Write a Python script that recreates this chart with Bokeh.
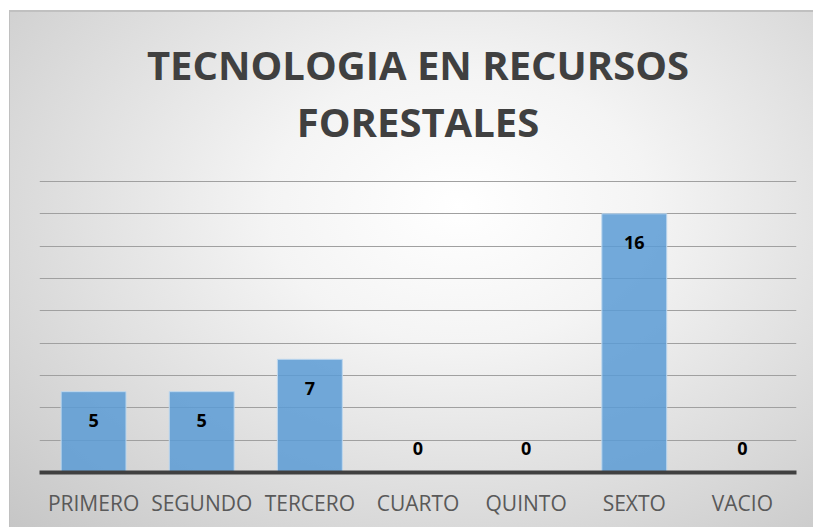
from bokeh.plotting import figure
from bokeh.models import ColumnDataSource, FixedTicker, Title
from bokeh.core.properties import value
from bokeh.embed import file_html
from bokeh.resources import INLINE

categories = ["PRIMERO", "SEGUNDO", "TERCERO", "CUARTO", "QUINTO", "SEXTO", "VACIO"]
counts = [5, 5, 7, 0, 0, 16, 0]
grid_ticks = [2, 4, 6, 8, 10, 12, 14, 16, 18]
y_max = 18.06
title_lines = ["TECNOLOGIA EN RECURSOS", "FORESTALES"]

src = ColumnDataSource(dict(
    cat=categories,
    val=counts,
    lab=[str(v) for v in counts],
    off=[29 if v > 0 else -24 for v in counts],
))

p = figure(x_range=categories, y_range=(0, y_max), width=813, height=527,
           output_backend="svg", toolbar_location=None,
           min_border_left=39, min_border_right=17, min_border_top=180, min_border_bottom=55)
p.title = None

p.background_fill_alpha = 0
p.border_fill_alpha = 0
p.outline_line_color = None
p.styles = {
    "background": (
        "linear-gradient(#c0c0c0,#c0c0c0) 9px 10px / 100% 2px no-repeat, "
        "linear-gradient(#c0c0c0,#c0c0c0) 9px 10px / 1px 100% no-repeat, "
        "radial-gradient(ellipse farthest-corner at 56% 38%, #ffffff 0%, #f4f4f4 30%, #c6c6c6 100%) 9px 10px / 804px 517px no-repeat, "
        "#ffffff"
    )
}

# spacer between the title block and the plot area
p.add_layout(Title(text=" ", text_font_size="27px", standoff=0), "above")
for line in reversed(title_lines):
    t = Title(text=line, align="center", text_font="Open Sans", text_font_style="bold",
              text_font_size="40px", text_color="#404040", standoff=0, offset=0)
    p.add_layout(t, "above")

p.vbar(x="cat", top="val", width=0.6, source=src, fill_color="#5B9BD5", fill_alpha=0.85,
       line_color="#bdd7ee", line_width=1)

p.text(x="cat", y="val", text="lab", y_offset="off", source=src, text_align="center",
       text_baseline="middle", text_font=value("Open Sans"), text_font_style="bold",
       text_font_size="18px", text_color="#000000")

p.yaxis.visible = False
p.xgrid.grid_line_color = None
p.ygrid.ticker = FixedTicker(ticks=grid_ticks)
p.ygrid.grid_line_color = "#a0a0a0"
p.ygrid.grid_line_width = 1

ax = p.xaxis[0]
ax.axis_line_color = "#404040"
ax.axis_line_width = 4
ax.major_tick_line_color = None
ax.minor_tick_line_color = None
ax.major_label_text_font = "Open Sans"
ax.major_label_text_font_size = "21px"
ax.major_label_text_color = "#595959"
ax.major_label_standoff = 10

open("out.html", "w").write(file_html(p, INLINE))
